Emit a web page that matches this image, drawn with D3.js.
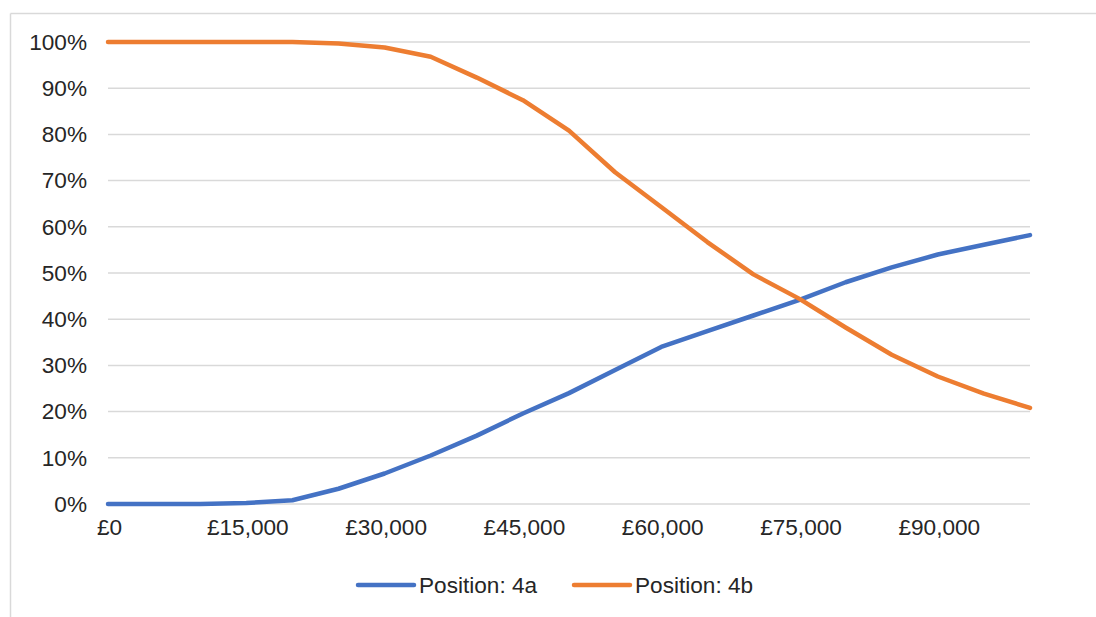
<!DOCTYPE html>
<html>
<head>
<meta charset="utf-8">
<script src="https://cdn.jsdelivr.net/npm/d3@7"></script>
<style>
  html, body { margin: 0; padding: 0; background: #fff; }
  svg { display: block; }
  text { font-family: "Liberation Sans", Arial, sans-serif; fill: #262626; }
</style>
</head>
<body>
<svg id="chart" width="1096" height="617"></svg>
<script>
// ---- data ----
const incomes = [0,5000,10000,15000,20000,25000,30000,35000,40000,45000,50000,55000,60000,65000,70000,75000,80000,85000,90000,95000,100000];
const position4a = [0,0,0,0.2,0.8,3.3,6.6,10.5,14.8,19.6,24.0,29.0,34.0,37.4,40.8,44.2,48.0,51.2,54.0,56.1,58.2];
const position4b = [100,100,100,100,100,99.7,98.8,96.8,92.3,87.4,80.8,71.8,64.3,56.7,49.7,44.4,38.2,32.3,27.6,23.9,20.8];
const seriesNames = ["Position: 4a", "Position: 4b"];
const seriesColors = ["#4472C4", "#ED7D31"];
const xTicks = [0,15000,30000,45000,60000,75000,90000];
const yTicks = [0,10,20,30,40,50,60,70,80,90,100];

const svg = d3.select("#chart");
const FONT = 22.6;

// chart border (top and left visible)
svg.append("line").attr("x1",10.5).attr("x2",1096).attr("y1",13.5).attr("y2",13.5)
   .attr("stroke","#d9d9d9").attr("stroke-width",1.5);
svg.append("line").attr("x1",10.5).attr("x2",10.5).attr("y1",13.5).attr("y2",617)
   .attr("stroke","#d9d9d9").attr("stroke-width",1.5);

const x = d3.scaleLinear().domain([0,100000]).range([108,1030]);
const y = d3.scaleLinear().domain([0,100]).range([504,42]);

// gridlines
svg.append("g").selectAll("line").data(yTicks).join("line")
  .attr("x1", x(0)).attr("x2", x(100000))
  .attr("y1", d => y(d)).attr("y2", d => y(d))
  .attr("stroke", "#d9d9d9").attr("stroke-width", 1.5);

// y axis labels
const yAxis = d3.axisLeft(y).tickValues(yTicks).tickFormat(d => d + "%").tickSize(0).tickPadding(0);
const gy = svg.append("g").attr("transform", "translate(87,0)").call(yAxis);
gy.select(".domain").remove();
gy.selectAll("text").attr("font-size", FONT).attr("fill", "#262626")
  .style("font-family", "'Liberation Sans', Arial, sans-serif");

// x axis labels
const fmt = d => "£" + d3.format(",")(d);
const xAxis = d3.axisBottom(x).tickValues(xTicks).tickFormat(fmt).tickSize(0).tickPadding(0);
const gx = svg.append("g").attr("transform", "translate(1,515)").call(xAxis);
gx.select(".domain").remove();
gx.selectAll("text").attr("font-size", FONT).attr("fill", "#262626").attr("dy", "0.9em")
  .style("font-family", "'Liberation Sans', Arial, sans-serif");

// lines
const series = [position4a, position4b];
const line = d3.line().x((d,i) => x(incomes[i])).y(d => y(d));
series.forEach((s, k) => {
  svg.append("path").datum(s)
    .attr("fill", "none")
    .attr("stroke", seriesColors[k])
    .attr("stroke-width", 4.5)
    .attr("stroke-linejoin", "round")
    .attr("stroke-linecap", "round")
    .attr("d", line);
});

// legend
const legendPos = [358, 574];
seriesNames.forEach((name, k) => {
  const g = svg.append("g").attr("transform", `translate(${legendPos[k]},585)`);
  g.append("line").attr("x1", 0).attr("x2", 56).attr("y1", 0).attr("y2", 0)
    .attr("stroke", seriesColors[k]).attr("stroke-width", 4.5).attr("stroke-linecap", "round");
  g.append("text").attr("x", 61).attr("y", 0).attr("dy", "0.36em")
    .attr("font-size", FONT).text(name);
});
</script>
</body>
</html>
